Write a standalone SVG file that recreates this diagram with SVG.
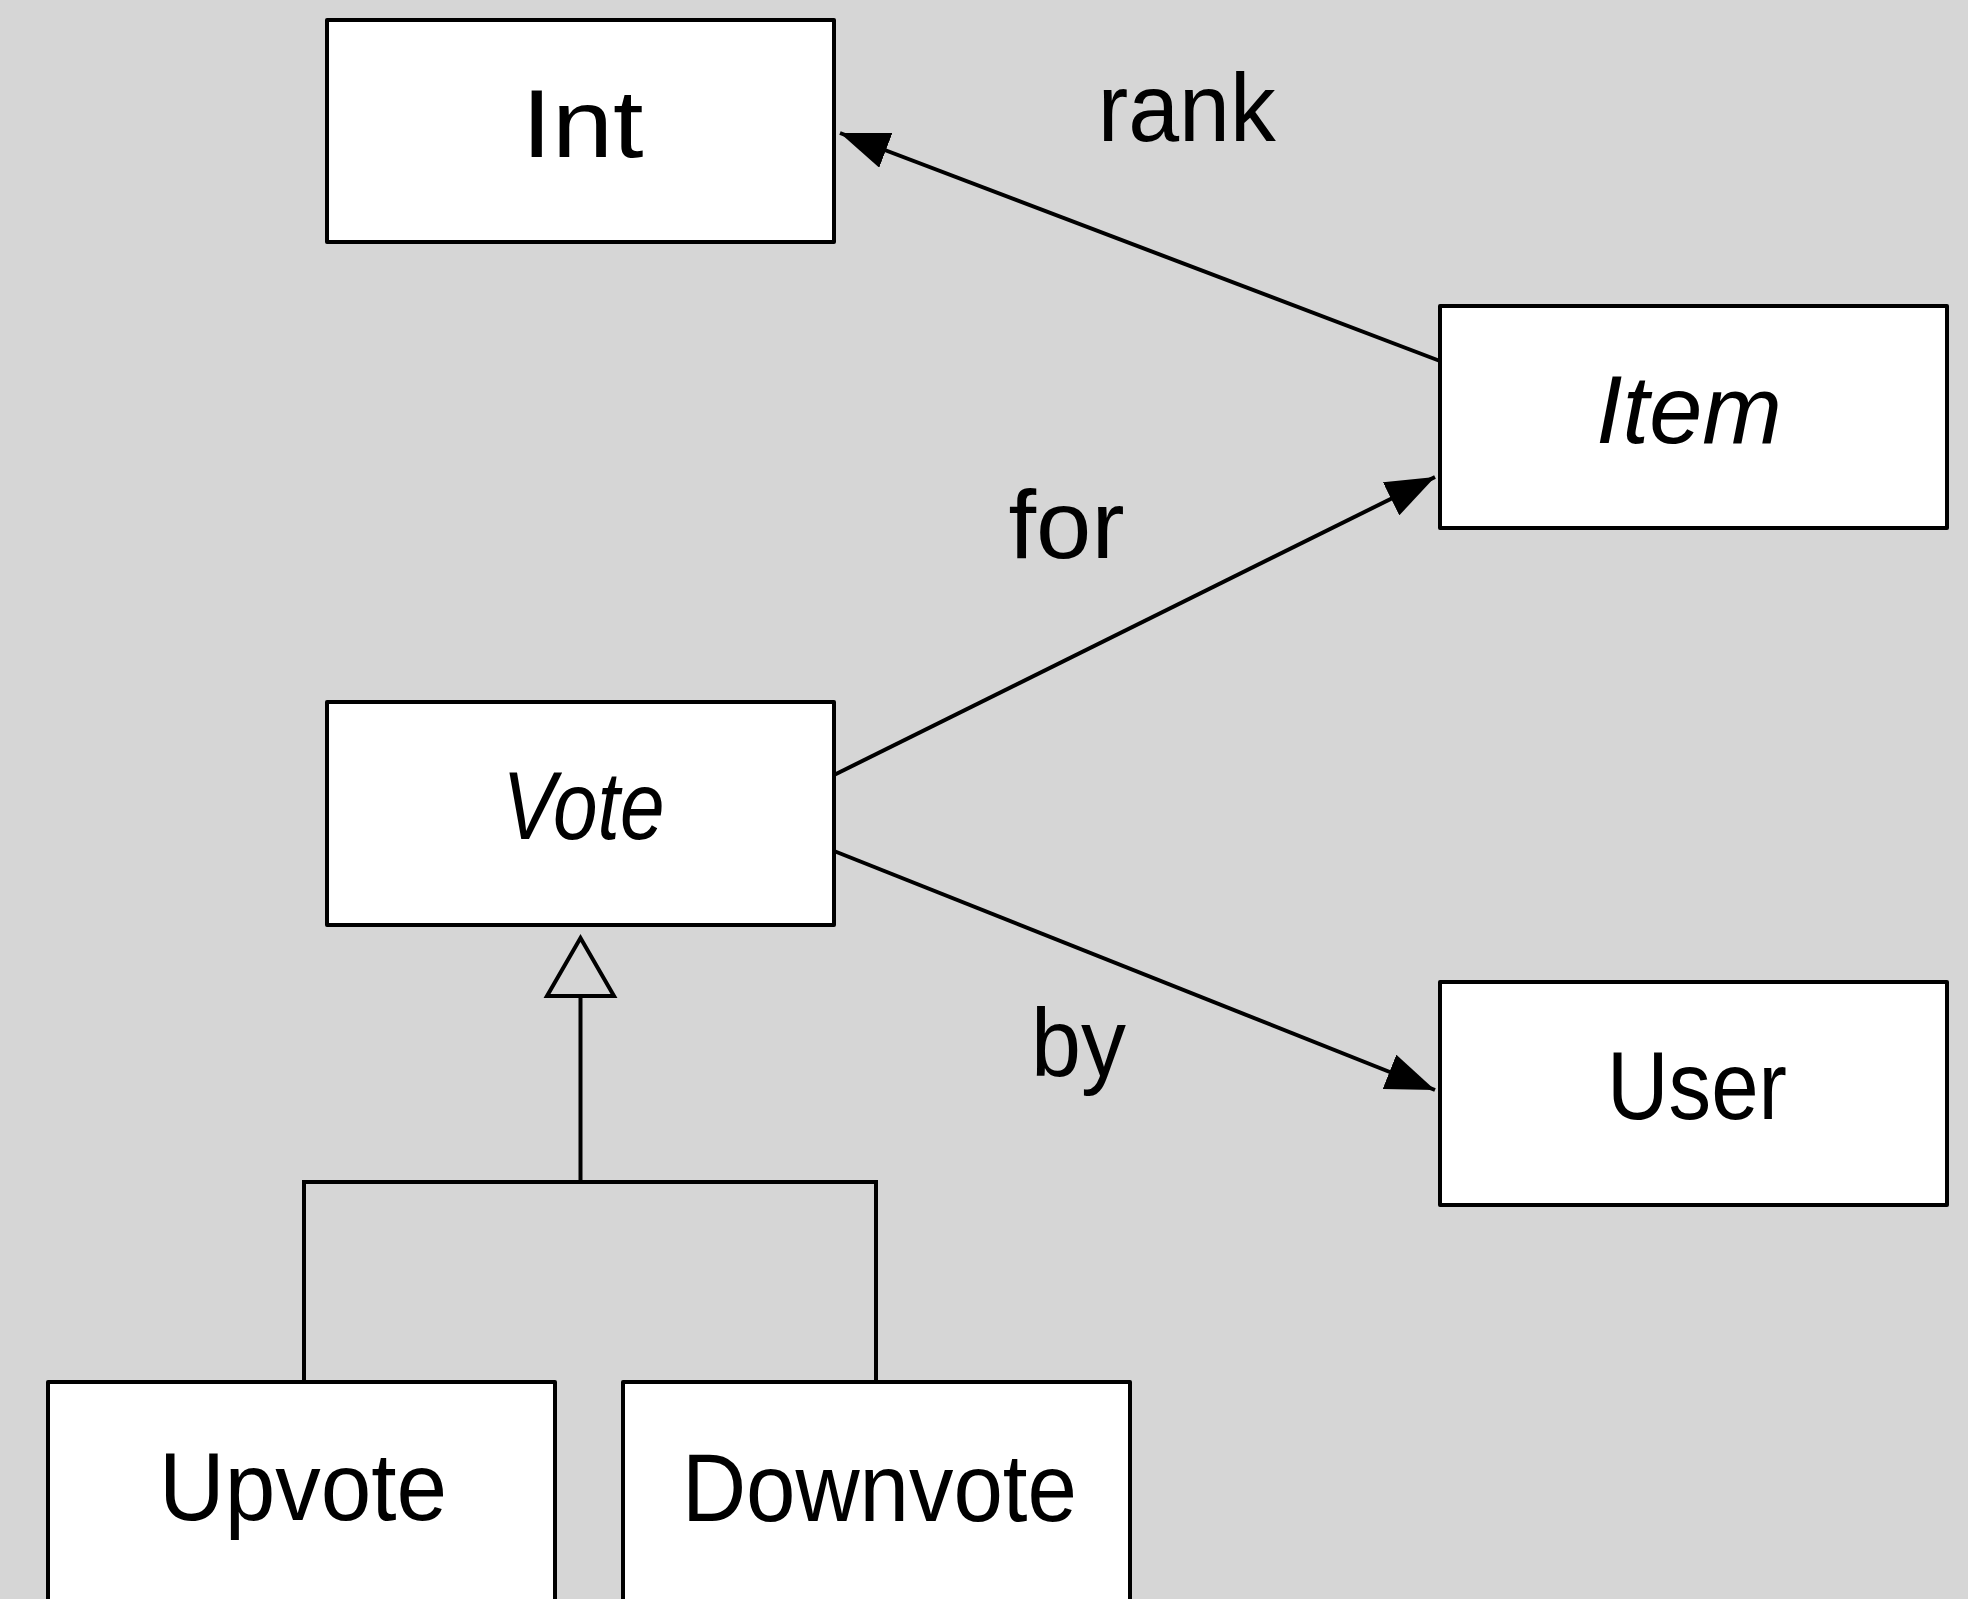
<svg xmlns="http://www.w3.org/2000/svg" width="1968" height="1599" viewBox="0 0 1968 1599">
<style>
.box{fill:#ffffff;stroke:#000000;stroke-width:4;stroke-linejoin:round}
.lbl{font-family:"Liberation Sans",Arial,sans-serif;font-size:96px;fill:#000000;text-anchor:middle}
.it{font-style:italic}
.edge{fill:none;stroke:#000000;stroke-width:4}
</style>
<defs>
<marker id="arrow" markerUnits="userSpaceOnUse" viewBox="0 0 49 37" refX="49" refY="18.5" markerWidth="49" markerHeight="37" orient="auto">
<path d="M0,0 L49,18.5 L0,37 z" fill="#000000"/>
</marker>
</defs>
<rect x="0" y="0" width="1968" height="1599" fill="#d6d6d6"/>
<g id="connectors">
<line class="edge" x1="1440" y1="361" x2="840" y2="133" marker-end="url(#arrow)"/>
<line class="edge" x1="834" y1="775" x2="1435" y2="477" marker-end="url(#arrow)"/>
<line class="edge" x1="834" y1="851" x2="1435" y2="1090" marker-end="url(#arrow)"/>
<polygon points="580.5,938 547,996 614,996" fill="#d6d6d6" stroke="#000000" stroke-width="4" stroke-linejoin="miter"/>
<line class="edge" x1="580.5" y1="996" x2="580.5" y2="1182"/>
<polyline class="edge" points="304,1382 304,1182 876,1182 876,1382"/>
<text class="lbl" x="1186.7" y="141" textLength="178" lengthAdjust="spacingAndGlyphs">rank</text>
<text class="lbl" x="1066.5" y="558" textLength="116" lengthAdjust="spacingAndGlyphs">for</text>
<text class="lbl" x="1078.5" y="1076" textLength="95" lengthAdjust="spacingAndGlyphs">by</text>
</g>
<g id="node-int">
<rect class="box" x="327" y="20" width="507" height="222"/>
<text class="lbl" x="582.4" y="157" textLength="122" lengthAdjust="spacingAndGlyphs">Int</text>
</g>
<g id="node-item">
<rect class="box" x="1440" y="306" width="507" height="222"/>
<text class="lbl it" x="1689" y="443" textLength="186" lengthAdjust="spacingAndGlyphs">Item</text>
</g>
<g id="node-vote">
<rect class="box" x="327" y="702" width="507" height="223"/>
<text class="lbl it" x="583.5" y="839" textLength="162" lengthAdjust="spacingAndGlyphs">Vote</text>
</g>
<g id="node-user">
<rect class="box" x="1440" y="982" width="507" height="223"/>
<text class="lbl" x="1697" y="1119" textLength="180" lengthAdjust="spacingAndGlyphs">User</text>
</g>
<g id="node-upvote">
<rect class="box" x="48" y="1382" width="507" height="222"/>
<text class="lbl" x="303" y="1520" textLength="288" lengthAdjust="spacingAndGlyphs">Upvote</text>
</g>
<g id="node-downvote">
<rect class="box" x="623" y="1382" width="507" height="222"/>
<text class="lbl" x="879.4" y="1520.7" textLength="395" lengthAdjust="spacingAndGlyphs">Downvote</text>
</g>
</svg>
